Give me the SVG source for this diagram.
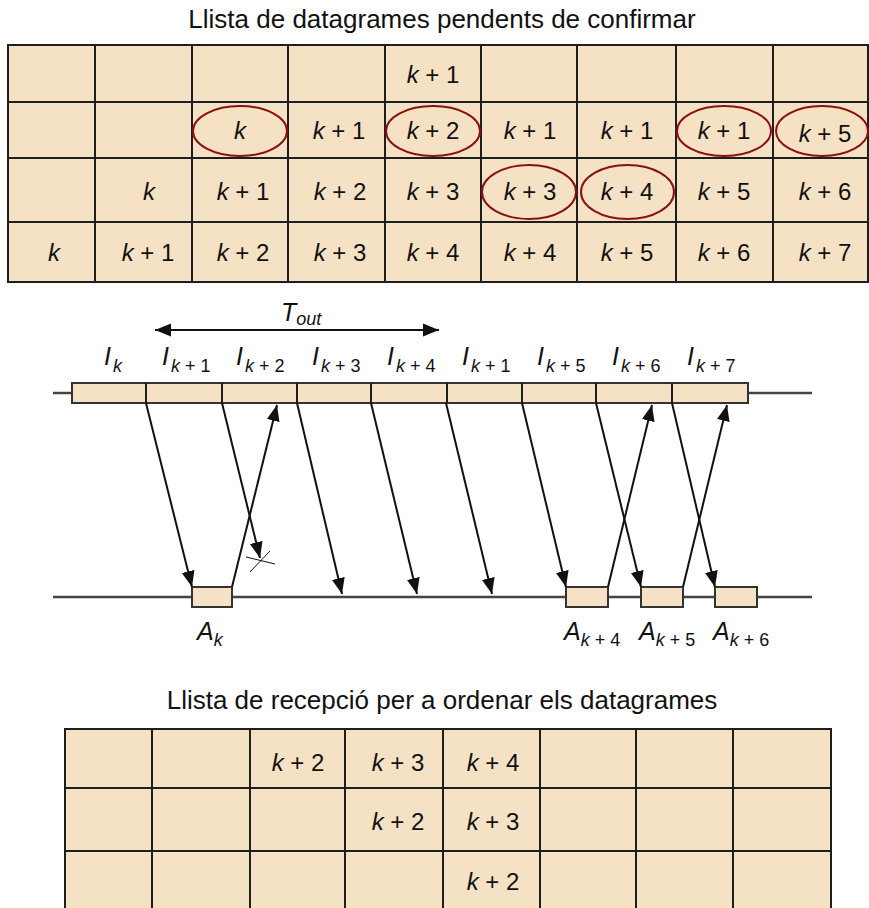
<svg xmlns="http://www.w3.org/2000/svg" width="869" height="908" viewBox="0 0 869 908">
<defs>
<style>
text{font-family:"Liberation Sans",Arial,Helvetica,sans-serif;fill:#111}
.title{font-size:26px;text-anchor:middle}
.cell{font-size:24px;text-anchor:middle}
.lbl{font-size:25px}
.sub{font-size:18px}
.it{font-style:italic}
.tbl{fill:#F5E1C3}
.grid{stroke:#1e1e1e;stroke-width:2;fill:none}
.ell{fill:none;stroke:#8B1010;stroke-width:2}
.tl{stroke:#444;stroke-width:2.5}
.box{fill:#F5E1C3;stroke:#333;stroke-width:2}
.arr{stroke:#111;stroke-width:2;fill:none;marker-end:url(#ah)}
.thin{stroke:#111;stroke-width:1}
</style>
<marker id="ah" markerUnits="userSpaceOnUse" markerWidth="17" markerHeight="14" refX="16" refY="6.5" orient="auto-start-reverse" viewBox="0 0 17 13">
<path d="M0,0 L16,6.5 L0,13 z" fill="#111"/>
</marker>
</defs>

<g id="title-top"><text class="title" x="442" y="28">Llista de datagrames pendents de confirmar</text></g>

<g id="table-top">
<rect class="tbl" x="8" y="45" width="860" height="237"/>
<path class="grid" d="M8,45H868V282H8Z M8,102H868 M8,158H868 M8,222H868 M95,45V282 M192,45V282 M288,45V282 M385,45V282 M481,45V282 M577,45V282 M676,45V282 M773,45V282"/>
<ellipse class="ell" cx="240" cy="131" rx="47" ry="25"/>
<ellipse class="ell" cx="433" cy="131" rx="47" ry="25"/>
<ellipse class="ell" cx="724" cy="131" rx="47" ry="25"/>
<ellipse class="ell" cx="822" cy="131" rx="46" ry="25"/>
<ellipse class="ell" cx="529" cy="192" rx="47" ry="27"/>
<ellipse class="ell" cx="627.5" cy="192" rx="46.5" ry="27"/>
<text class="cell" x="433" y="83"><tspan class="it">k</tspan> + 1</text>
<text class="cell" x="240" y="139"><tspan class="it">k</tspan></text>
<text class="cell" x="339" y="139"><tspan class="it">k</tspan> + 1</text>
<text class="cell" x="433" y="139"><tspan class="it">k</tspan> + 2</text>
<text class="cell" x="530" y="139"><tspan class="it">k</tspan> + 1</text>
<text class="cell" x="627" y="139"><tspan class="it">k</tspan> + 1</text>
<text class="cell" x="724" y="139"><tspan class="it">k</tspan> + 1</text>
<text class="cell" x="825" y="142"><tspan class="it">k</tspan> + 5</text>
<text class="cell" x="149" y="200"><tspan class="it">k</tspan></text>
<text class="cell" x="243" y="200"><tspan class="it">k</tspan> + 1</text>
<text class="cell" x="340" y="200"><tspan class="it">k</tspan> + 2</text>
<text class="cell" x="433" y="200"><tspan class="it">k</tspan> + 3</text>
<text class="cell" x="530" y="200"><tspan class="it">k</tspan> + 3</text>
<text class="cell" x="627" y="200"><tspan class="it">k</tspan> + 4</text>
<text class="cell" x="724" y="200"><tspan class="it">k</tspan> + 5</text>
<text class="cell" x="825" y="200"><tspan class="it">k</tspan> + 6</text>
<text class="cell" x="54" y="261"><tspan class="it">k</tspan></text>
<text class="cell" x="148" y="261"><tspan class="it">k</tspan> + 1</text>
<text class="cell" x="243" y="261"><tspan class="it">k</tspan> + 2</text>
<text class="cell" x="340" y="261"><tspan class="it">k</tspan> + 3</text>
<text class="cell" x="433" y="261"><tspan class="it">k</tspan> + 4</text>
<text class="cell" x="530" y="261"><tspan class="it">k</tspan> + 4</text>
<text class="cell" x="627" y="261"><tspan class="it">k</tspan> + 5</text>
<text class="cell" x="724" y="261"><tspan class="it">k</tspan> + 6</text>
<text class="cell" x="825" y="261"><tspan class="it">k</tspan> + 7</text>
</g>

<g id="timeout">
<line x1="155" y1="330" x2="439" y2="330" stroke="#111" stroke-width="2" marker-start="url(#ah)" marker-end="url(#ah)"/>
<text class="lbl" x="281" y="321"><tspan class="it">T</tspan><tspan class="sub it" font-size="20" dy="4">out</tspan></text>
</g>

<g id="sender">
<line class="tl" x1="53" y1="393" x2="812" y2="393"/>
<rect class="box" x="72" y="383" width="676" height="20"/>
<path class="grid" d="M146,383V403 M222,383V403 M297,383V403 M371,383V403 M447,383V403 M522,383V403 M596,383V403 M672,383V403"/>
<text class="lbl" x="104" y="365"><tspan class="it">I</tspan><tspan class="sub it" dx="2" dy="7">k</tspan></text>
<text class="lbl" x="162" y="365"><tspan class="it">I</tspan><tspan class="sub" dx="2" dy="7"><tspan class="it">k</tspan> + 1</tspan></text>
<text class="lbl" x="236" y="365"><tspan class="it">I</tspan><tspan class="sub" dx="2" dy="7"><tspan class="it">k</tspan> + 2</tspan></text>
<text class="lbl" x="312" y="365"><tspan class="it">I</tspan><tspan class="sub" dx="2" dy="7"><tspan class="it">k</tspan> + 3</tspan></text>
<text class="lbl" x="387" y="365"><tspan class="it">I</tspan><tspan class="sub" dx="2" dy="7"><tspan class="it">k</tspan> + 4</tspan></text>
<text class="lbl" x="462" y="365"><tspan class="it">I</tspan><tspan class="sub" dx="2" dy="7"><tspan class="it">k</tspan> + 1</tspan></text>
<text class="lbl" x="537" y="365"><tspan class="it">I</tspan><tspan class="sub" dx="2" dy="7"><tspan class="it">k</tspan> + 5</tspan></text>
<text class="lbl" x="612" y="365"><tspan class="it">I</tspan><tspan class="sub" dx="2" dy="7"><tspan class="it">k</tspan> + 6</tspan></text>
<text class="lbl" x="687" y="365"><tspan class="it">I</tspan><tspan class="sub" dx="2" dy="7"><tspan class="it">k</tspan> + 7</tspan></text>
</g>

<g id="receiver">
<line class="tl" x1="53" y1="597" x2="812" y2="597"/>
<rect class="box" x="192" y="587" width="40" height="20"/>
<rect class="box" x="566" y="587" width="42" height="20"/>
<rect class="box" x="641" y="587" width="42" height="20"/>
<rect class="box" x="715" y="587" width="42" height="20"/>
<text class="lbl" x="197" y="640"><tspan class="it">A</tspan><tspan class="sub it" dy="6">k</tspan></text>
<text class="lbl" x="564" y="640"><tspan class="it">A</tspan><tspan class="sub" dy="6"><tspan class="it">k</tspan> + 4</tspan></text>
<text class="lbl" x="639" y="640"><tspan class="it">A</tspan><tspan class="sub" dy="6"><tspan class="it">k</tspan> + 5</tspan></text>
<text class="lbl" x="713" y="640"><tspan class="it">A</tspan><tspan class="sub" dy="6"><tspan class="it">k</tspan> + 6</tspan></text>
</g>

<g id="connectors">
<line class="arr" x1="146" y1="403" x2="192" y2="587"/>
<line class="arr" x1="222" y1="403" x2="260" y2="558"/>
<line class="arr" x1="232" y1="587" x2="277" y2="405"/>
<line class="arr" x1="297" y1="403" x2="342" y2="594"/>
<line class="arr" x1="371" y1="403" x2="417" y2="594"/>
<line class="arr" x1="446" y1="403" x2="492" y2="594"/>
<line class="arr" x1="522" y1="403" x2="566" y2="587"/>
<line class="arr" x1="596" y1="403" x2="641" y2="587"/>
<line class="arr" x1="672" y1="403" x2="715" y2="587"/>
<line class="arr" x1="608" y1="587" x2="652" y2="405"/>
<line class="arr" x1="683" y1="587" x2="727" y2="405"/>
<line class="thin" x1="246" y1="557" x2="275" y2="564"/>
<line class="thin" x1="250" y1="572" x2="270" y2="551"/>
</g>

<g id="title-bottom"><text class="title" x="442" y="709">Llista de recepció per a ordenar els datagrames</text></g>

<g id="table-bottom">
<rect class="tbl" x="65" y="729" width="766" height="182"/>
<path class="grid" d="M65,911V729H831V911 M65,788H831 M65,851H831 M152,729V911 M250,729V911 M345,729V911 M443,729V911 M540,729V911 M636,729V911 M733,729V911"/>
<text class="cell" x="298" y="771"><tspan class="it">k</tspan> + 2</text>
<text class="cell" x="398" y="771"><tspan class="it">k</tspan> + 3</text>
<text class="cell" x="493" y="771"><tspan class="it">k</tspan> + 4</text>
<text class="cell" x="398" y="830"><tspan class="it">k</tspan> + 2</text>
<text class="cell" x="493" y="830"><tspan class="it">k</tspan> + 3</text>
<text class="cell" x="493" y="890"><tspan class="it">k</tspan> + 2</text>
</g>
</svg>
